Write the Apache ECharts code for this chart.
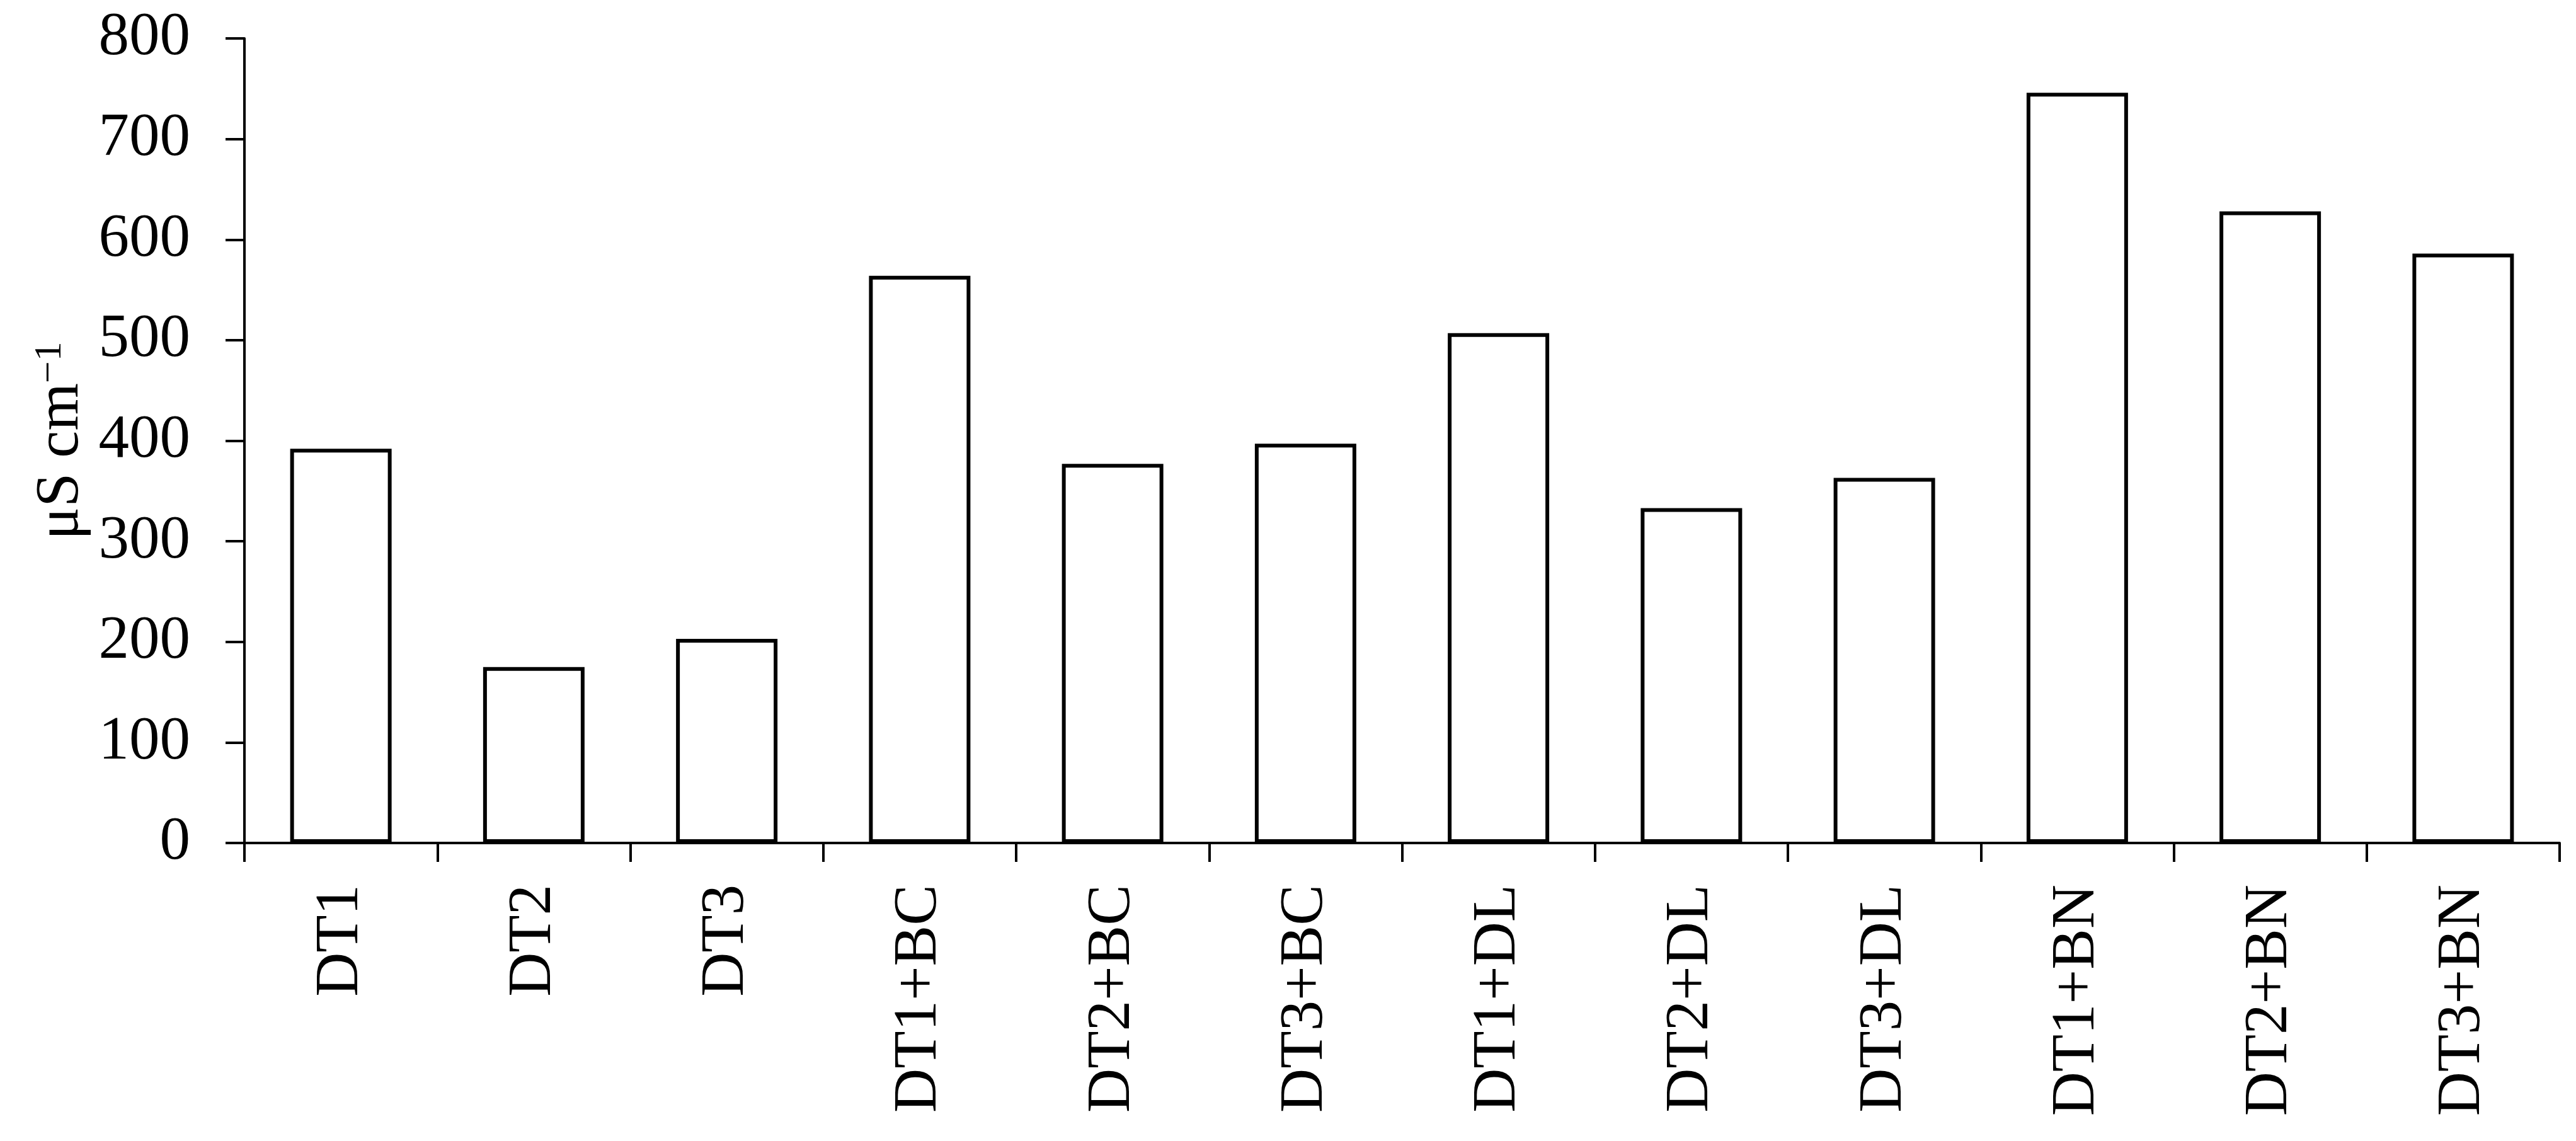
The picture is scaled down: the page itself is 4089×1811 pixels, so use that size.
<!DOCTYPE html>
<html>
<head>
<meta charset="utf-8">
<script src="https://cdn.jsdelivr.net/npm/echarts@6/dist/echarts.min.js"></script>
<style>
  html, body { margin: 0; padding: 0; background: #fff; }
  #main { width: 4089px; height: 1811px; }
</style>
</head>
<body>
<div id="main"></div>
<script>
// treatments on the x axis
var categories = ['DT1', 'DT2', 'DT3', 'DT1+BC', 'DT2+BC', 'DT3+BC',
                  'DT1+DL', 'DT2+DL', 'DT3+DL', 'DT1+BN', 'DT2+BN', 'DT3+BN'];
// electrical conductivity, µS cm-1
var ecValues = [392, 175, 203, 564, 377, 397, 507, 333, 363, 746, 628, 586];
var yMin = 0, yMax = 800, yStep = 100;

var serif = '"Liberation Serif", "Times New Roman", serif';

var myChart = echarts.init(document.getElementById('main'));
myChart.setOption({
    backgroundColor: '#fff',
    animation: false,
    textStyle: {fontFamily: serif, color: '#000'},
    grid: {left: 388, right: 26, top: 61, bottom: 473, outerBoundsMode: 'none'},
    xAxis: {
        type: 'category',
        data: categories,
        boundaryGap: true,
        axisLine: {lineStyle: {color: '#000', width: 4}},
        axisTick: {show: true, alignWithLabel: false, length: 30, lineStyle: {color: '#000', width: 4}},
        axisLabel: {rotate: 90, margin: 66, fontSize: 97, color: '#000', fontFamily: serif, interval: 0}
    },
    yAxis: {
        type: 'value',
        min: yMin,
        max: yMax,
        interval: yStep,
        name: '{a|μS cm}{b|−1}',
        nameLocation: 'middle',
        nameGap: 240,
        nameRotate: 90,
        nameTextStyle: {
            rich: {
                a: {fontSize: 97, fontFamily: serif, color: '#000'},
                b: {fontSize: 62, fontFamily: serif, color: '#000', verticalAlign: 'top'}
            }
        },
        splitLine: {show: false},
        axisLine: {show: true, lineStyle: {color: '#000', width: 4}},
        axisTick: {show: true, length: 30, lineStyle: {color: '#000', width: 4}},
        axisLabel: {margin: 86, fontSize: 97, color: '#000', fontFamily: serif}
    },
    series: [
        {
            name: 'EC',
            type: 'bar',
            data: ecValues,
            barWidth: 161,
            itemStyle: {color: '#fff', borderColor: '#000', borderWidth: 6}
        }
    ]
});
</script>
</body>
</html>
